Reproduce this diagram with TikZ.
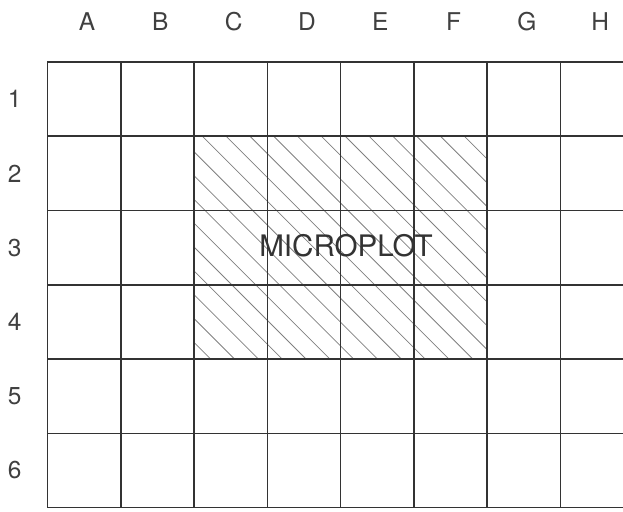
\documentclass[tikz,border=0pt]{standalone}
\usepackage{fontspec}
\setmainfont{TeX Gyre Heros}
\usepackage{tikz}

\begin{document}
\begin{tikzpicture}[
  scale=1,
  gridline/.style={draw=black!80, line width=1.2pt},
  hatchline/.style={draw=black!50, line width=0.6pt},
  axislabel/.style={font=\fontsize{19}{22}\selectfont, text=black!75,
                    inner sep=0pt},
]
  % Page frame
  \useasboundingbox (0, 0) rectangle (17.0, 13.97);
  \clip (0, 0) rectangle (17.0, 13.97);

  % Hatched microplot block (columns C-F, rows 2-4)
  \begin{scope}
    \clip (5.296, 10.253) rectangle (13.296, 4.172);
    \foreach \k in {-10,...,12} {
      \draw[hatchline] ({5.52+0.65*\k}, 10.253) -- ++(6.3, -6.3);
    }
  \end{scope}

  % Grid: vertical lines
  \foreach \i in {0,...,8} {
    \draw[gridline] ({1.296+2*\i}, 12.28) -- ({1.296+2*\i}, 0.118);
  }
  % Grid: horizontal lines
  \foreach \j in {0,...,6} {
    \draw[gridline] (1.296, {12.28-2.027*\j}) -- (17.4, {12.28-2.027*\j});
  }

  % Column letters
  \foreach \l [count=\i from 0] in {A,B,C,D,E,F,G,H} {
    \node[axislabel] (col\l) at ({2.376+2*\i}, 13.37) {\l};
  }
  % Row numbers
  \foreach \r in {1,...,6} {
    \node[axislabel] (row\r) at (0.40, {12.28-2.027*(\r-0.5)}) {\r};
  }

  % Block label
  \node[font=\fontsize{23}{27}\selectfont, text=black!80, inner sep=0pt]
    (microplot) at (9.44, 7.27) {MICROPLOT};

\end{tikzpicture}
\end{document}
